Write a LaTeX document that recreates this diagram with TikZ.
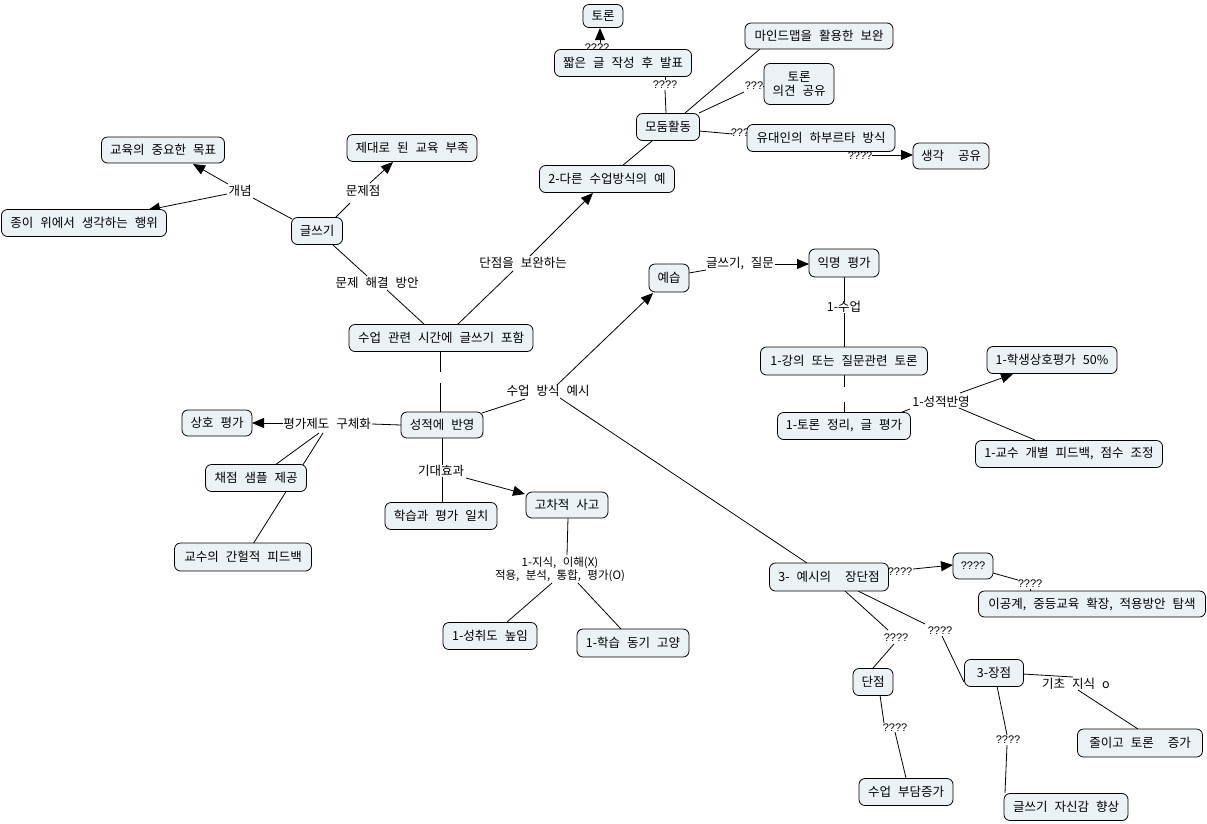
\documentclass[tikz,border=0pt]{standalone}
\usepackage{fontspec}
\setmainfont{Noto Sans CJK KR}[WordSpace=2.5]
\newfontfamily\qfont{Liberation Sans}
\usetikzlibrary{arrows.meta,backgrounds}
\definecolor{cfill}{RGB}{235,242,245}
\tikzset{
 box/.style 2 args={draw=black, line width=0.8pt, rounded corners=6pt, fill=cfill, minimum width=#1pt, minimum height=#2pt, inner sep=0pt, font=\fontsize{12.5}{14}\selectfont, align=center},
 lbl/.style={inner sep=0pt, font=\fontsize{12.5}{14}\selectfont, align=center},
 qlbl/.style={inner sep=0pt, font=\qfont\fontsize{11}{12}\selectfont},
 gapnode/.style={inner sep=0pt, minimum size=2pt},
 con/.style={line width=0.8pt, draw=black},
 arr/.style={con, -{Triangle[length=12pt,width=10pt]}},
}
\begin{document}
\begin{tikzpicture}[x=1pt,y=-1pt]
\useasboundingbox (0,0) rectangle (1207,823);
% concepts
\node[box={40}{23}] (toron) at (603,16) {토론};
\node[box={137}{27}] (jjalb) at (623,63) {짧은 글 작성 후 발표};
\node[box={148}{26}] (mind) at (819,36) {마인드맵을 활용한 보완};
\node[box={70}{41}] (toron2) at (799,84) {토론\\의견 공유};
\node[box={63}{27}] (modum) at (668,127) {모둠활동};
\node[box={148}{27}] (yudae) at (821,138) {유대인의 하부르타 방식};
\node[box={76}{26}] (saeng) at (951,156) {생각 \ 공유};
\node[box={135}{27}] (dareun) at (607,179) {2-다른 수업방식의 예};
\node[box={123}{26}] (gyoyuk) at (163,150) {교육의 중요한 목표};
\node[box={130}{27}] (jedaero) at (412,148) {제대로 된 교육 부족};
\node[box={165}{27}] (jongi) at (84,223) {종이 위에서 생각하는 행위};
\node[box={51}{27}] (geul) at (317,231) {글쓰기};
\node[box={184}{27}] (sueop) at (441,338) {수업 관련 시간에 글쓰기 포함};
\node[box={40}{28}] (yeseup) at (669,278) {예습};
\node[box={70}{28}] (ikm) at (844,263) {익명 평가};
\node[box={167}{28}] (gangui) at (844,361) {1-강의 또는 질문관련 토론};
\node[box={130}{27}] (haks) at (1052,360) {1-학생상호평가 50\%};
\node[box={133}{27}] (tojeong) at (844,426) {1-토론 정리, 글 평가};
\node[box={187}{27}] (gyosu1) at (1069,454) {1-교수 개별 피드백, 점수 조정};
\node[box={82}{26}] (seong) at (442,425) {성적에 반영};
\node[box={70}{26}] (sangho) at (217,423) {상호 평가};
\node[box={101}{27}] (chaej) at (256,478) {채점 샘플 제공};
\node[box={137}{28}] (gyosu2) at (243,557) {교수의 간헐적 피드백};
\node[box={112}{27}] (hakseup) at (441,516) {학습과 평가 일치};
\node[box={82}{26}] (gocha) at (567,505) {고차적 사고};
\node[box={94}{27}] (seongchwi) at (490,636) {1-성취도 높임};
\node[box={112}{28}] (donggi) at (633,643) {1-학습 동기 고양};
\node[box={119}{28}] (yesi) at (829,577) {3- 예시의 \ 장단점};
\node[box={40}{26}, font=\qfont\fontsize{11}{12}\selectfont] (qbox) at (973,566) {????};
\node[box={227}{26}] (igong) at (1092,604) {이공계, 중등교육 확장, 적용방안 탐색};
\node[box={40}{27}] (danj) at (873,682) {단점};
\node[box={59}{27}] (jangj) at (994,673) {3-장점};
\node[box={125}{28}] (juri) at (1140,743) {줄이고 토론 \ 증가};
\node[box={94}{27}] (budam) at (906,792) {수업 부담증가};
\node[box={124}{27}] (jasin) at (1066,807) {글쓰기 자신감 향상};

\begin{pgfonlayer}{background}
\fill[white] (0,0) rectangle (1207,823);
% linking phrases
\node[qlbl] (L1) at (597,48) {????};
\node[qlbl] (L2) at (665,85) {????};
\node[qlbl] (L3) at (754,86) {???};
\node[qlbl] (L4) at (740,133) {???};
\node[qlbl] (L5) at (860,156) {????};
\node[lbl] (L6) at (523,263) {단점을 보완하는};
\node[lbl] (L7) at (377,283) {문제 해결 방안};
\node[lbl] (L8) at (240,191) {개념};
\node[lbl] (L9) at (363,191) {문제점};
\node[lbl] (L10) at (548,391) {수업 방식 예시};
\node[lbl] (L11) at (740,264) {글쓰기, 질문};
\node[lbl] (L12) at (844,307) {1-수업};
\node[lbl] (L13) at (941,402) {1-성적반영};
\node[lbl] (L14) at (327,424) {평가제도 구체화};
\node[lbl] (L15) at (441,471) {기대효과};
\node[lbl, font=\fontsize{11.5}{13}\selectfont] (L16) at (560,569) {1-지식, 이해(X)\\적용, 분석, 통합, 평가(O)};
\node[qlbl] (L17) at (900,572) {????};
\node[qlbl] (L18) at (1030,584) {????};
\node[qlbl] (L19) at (896,638) {????};
\node[qlbl] (L20) at (940,631) {????};
\node[lbl] (L21) at (1076,684) {기초 지식 o};
\node[qlbl] (L22) at (895,728) {????};
\node[qlbl] (L23) at (1008,740) {????};
\node[gapnode] (G1) at (440,377) {};
\node[gapnode] (G2) at (844,395) {};

% connectors
\draw[arr] ([shift={(3,-5)}]L1.center) -- ([shift={(-3,12)}]toron.center);
\draw[con] ([shift={(-2,-14)}]modum.center) -- ([shift={(0,5)}]L2.center);
\draw[con] ([shift={(0,-5)}]L2.center) -- ([shift={(42,14)}]jjalb.center);
\draw[con] ([shift={(17,-14)}]modum.center) -- ([shift={(-59,13)}]mind.center);
\draw[con] ([shift={(31,-14)}]modum.center) -- ([shift={(-10,6)}]L3.center);
\draw[con] ([shift={(9,0)}]L3.center) -- ([shift={(-35,2)}]toron2.center);
\draw[con] ([shift={(31,4)}]modum.center) -- ([shift={(-7,1)}]L4.center);
\draw[con] ([shift={(7,0)}]L4.center) -- ([shift={(-74,-5)}]yudae.center);
\draw[con] ([shift={(39,13)}]yudae.center) -- ([shift={(0,-4)}]L5.center);
\draw[arr] ([shift={(12,-1)}]L5.center) -- ([shift={(-38,-1)}]saeng.center);
\draw[con] ([shift={(15,-13)}]dareun.center) -- ([shift={(-16,14)}]modum.center);
\draw[con] ([shift={(16,-13)}]sueop.center) -- ([shift={(-10,8)}]L6.center);
\draw[arr] ([shift={(7,-7)}]L6.center) -- ([shift={(-14,14)}]dareun.center);
\draw[con] ([shift={(16,14)}]geul.center) -- ([shift={(-10,-7)}]L7.center);
\draw[con] ([shift={(10,7)}]L7.center) -- ([shift={(-16,-13)}]sueop.center);
\draw[con] ([shift={(-25,-12)}]geul.center) -- ([shift={(13,7)}]L8.center);
\draw[arr] ([shift={(-12,-7)}]L8.center) -- ([shift={(30,14)}]gyoyuk.center);
\draw[arr] ([shift={(-13,3)}]L8.center) -- ([shift={(64,-13)}]jongi.center);
\draw[con] ([shift={(18,-13)}]geul.center) -- ([shift={(-13,12)}]L9.center);
\draw[arr] ([shift={(7,-8)}]L9.center) -- ([shift={(-19,14)}]jedaero.center);
\draw[con] ([shift={(-1,14)}]sueop.center) -- ([shift={(0,-5)}]G1.center);
\draw[con] ([shift={(0,6)}]G1.center) -- ([shift={(-2,-13)}]seong.center);
\draw[con] ([shift={(40,-12)}]seong.center) -- ([shift={(-23,8)}]L10.center);
\draw[arr] ([shift={(9,-6)}]L10.center) -- ([shift={(-16,15)}]yeseup.center);
\draw[con] ([shift={(12,7)}]L10.center) -- ([shift={(-22,-14)}]yesi.center);
\draw[con] ([shift={(20,-5)}]yeseup.center) -- ([shift={(-34,6)}]L11.center);
\draw[arr] ([shift={(35,0)}]L11.center) -- ([shift={(-35,1)}]ikm.center);
\draw[con] ([shift={(0,14)}]ikm.center) -- ([shift={(0,-5)}]L12.center);
\draw[con] ([shift={(0,6)}]L12.center) -- ([shift={(0,-14)}]gangui.center);
\draw[con] ([shift={(0,14)}]gangui.center) -- ([shift={(0,-8)}]G2.center);
\draw[con] ([shift={(0,7)}]G2.center) -- ([shift={(0,-13)}]tojeong.center);
\draw[con] ([shift={(56,-13)}]tojeong.center) -- ([shift={(-31,7)}]L13.center);
\draw[arr] ([shift={(19,-9)}]L13.center) -- ([shift={(-39,14)}]haks.center);
\draw[con] ([shift={(18,6)}]L13.center) -- ([shift={(-34,-14)}]gyosu1.center);
\draw[con] ([shift={(-41,0)}]seong.center) -- ([shift={(45,0)}]L14.center);
\draw[arr] ([shift={(-44,-1)}]L14.center) -- ([shift={(35,0)}]sangho.center);
\draw[con] ([shift={(-8,9)}]L14.center) -- ([shift={(19,-13)}]chaej.center);
\draw[con] ([shift={(-4,9)}]L14.center) -- ([shift={(10,-13)}]gyosu2.center);
\draw[con] ([shift={(0,13)}]seong.center) -- ([shift={(1,-6)}]L15.center);
\draw[con] ([shift={(1,6)}]L15.center) -- ([shift={(1,-13)}]hakseup.center);
\draw[arr] ([shift={(25,7)}]L15.center) -- ([shift={(-42,-11)}]gocha.center);
\draw[con] ([shift={(1,13)}]gocha.center) -- ([shift={(7,-14)}]L16.center);
\draw[con] ([shift={(-8,14)}]L16.center) -- ([shift={(17,-14)}]seongchwi.center);
\draw[con] ([shift={(18,14)}]L16.center) -- ([shift={(-12,-14)}]donggi.center);
\draw[con] ([shift={(59,-5)}]yesi.center) -- ([shift={(-12,-2)}]L17.center);
\draw[arr] ([shift={(13,-3)}]L17.center) -- ([shift={(-20,-1)}]qbox.center);
\draw[con] ([shift={(20,7)}]qbox.center) -- ([shift={(-12,-4)}]L18.center);
\draw[con] ([shift={(0,5)}]L18.center) -- ([shift={(-62,-13)}]igong.center);
\draw[con] ([shift={(16,14)}]yesi.center) -- ([shift={(-8,-8)}]L19.center);
\draw[con] ([shift={(-2,6)}]L19.center) -- ([shift={(0,-14)}]danj.center);
\draw[con] ([shift={(29,14)}]yesi.center) -- ([shift={(-15,-7)}]L20.center);
\draw[con] ([shift={(2,5)}]L20.center) -- ([shift={(-30,9)}]jangj.center);
\draw[con] ([shift={(29,1)}]jangj.center) -- ([shift={(-3,-7)}]L21.center);
\draw[con] ([shift={(2,6)}]L21.center) -- ([shift={(-2,-14)}]juri.center);
\draw[con] ([shift={(7,13)}]danj.center) -- ([shift={(-11,-5)}]L22.center);
\draw[con] ([shift={(0,4)}]L22.center) -- ([shift={(0,-14)}]budam.center);
\draw[con] ([shift={(3,13)}]jangj.center) -- ([shift={(-1,-5)}]L23.center);
\draw[con] ([shift={(-1,5)}]L23.center) -- ([shift={(-61,-14)}]jasin.center);
\end{pgfonlayer}
\end{tikzpicture}
\end{document}
